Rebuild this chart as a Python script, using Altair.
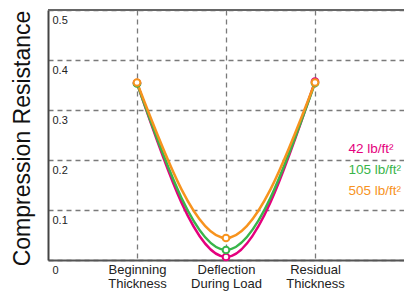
import json
import altair as alt
import pandas as pd

# ---- data ----
stages = ["Beginning Thickness", "Deflection During Load", "Residual Thickness"]
stage_lines = [["Beginning", "Thickness"], ["Deflection", "During Load"], ["Residual", "Thickness"]]
stage_pos = [1, 2, 3]
series = ["42 lb/ft²", "105 lb/ft²", "505 lb/ft²"]
colors = ["#E5007D", "#39B54A", "#F7931E"]
vals_42 = [0.354, 0.006, 0.357]
vals_105 = [0.353, 0.020, 0.354]
vals_505 = [0.355, 0.044, 0.355]
y_ticks = [0, 0.1, 0.2, 0.3, 0.4, 0.5]

rows = []
for name, vals in zip(series, [vals_42, vals_105, vals_505]):
    for st, p, v in zip(stages, stage_pos, vals):
        rows.append({"series": name, "stage": st, "pos": p, "value": v})
df = pd.DataFrame(rows)

label_expr = " : ".join(
    f"datum.value == {p} ? {json.dumps(lines)}" for p, lines in zip(stage_pos, stage_lines)
) + " : ''"

FONT = "Liberation Sans"
grid_dash = [5, 4]

x_enc = alt.X(
    "pos:Q",
    scale=alt.Scale(domain=[0, 356 / 91]),
    axis=alt.Axis(
        values=stage_pos, labelExpr=label_expr, title=None, ticks=False,
        grid=True, gridDash=grid_dash, gridColor="#7a7a7a", gridWidth=1.3,
        domainColor="#555555", domainWidth=2, labelFontSize=13,
        labelLineHeight=14, labelPadding=3, labelColor="#222222", labelFont=FONT,
        labelBaseline="top",
    ),
)
y_enc = alt.Y(
    "value:Q",
    scale=alt.Scale(domain=[0, 0.5]),
    axis=alt.Axis(
        values=y_ticks, format="~g", ticks=False, grid=True, gridDash=grid_dash,
        gridColor="#7a7a7a", gridWidth=1.3, domainColor="#444444", domainWidth=2,
        labelAlign="left", labelBaseline="top", labelPadding=-4, labelOffset=4,
        labelFontSize=11, labelColor="#222222", labelFont=FONT,
        title="Compression Resistance", titleFontSize=23, titleFontWeight="normal",
        titleFont=FONT, titleColor="#111111", titleX=-19, titleY=128,
        titleAngle=-90, titleBaseline="alphabetic", titleAlign="center",
    ),
)
color_enc = alt.Color(
    "series:N",
    scale=alt.Scale(domain=series, range=colors),
    sort=series,
    legend=alt.Legend(
        orient="none", legendX=287, legendY=132, title=None,
        symbolOpacity=0, symbolSize=0, symbolStrokeWidth=0, labelOffset=0,
        labelFontSize=13.5, labelFont=FONT, rowPadding=6, padding=0,
        labelColor={"expr": "scale('color', datum.value)"},
    ),
)

base = alt.Chart(df)
lines = base.mark_line(interpolate="monotone", strokeWidth=2.5).encode(
    x=x_enc, y=y_enc, color=color_enc
)
points = base.mark_point(shape="circle", filled=False, fill="white", fillOpacity=1,
                         size=45, strokeWidth=2, opacity=1).encode(
    x="pos:Q", y="value:Q", color=alt.Color("series:N", legend=None)
)
top_border = alt.Chart(pd.DataFrame({"v": [0.5]})).mark_rule(
    color="#666666", strokeWidth=2
).encode(y=alt.Y("v:Q"))

chart = alt.layer(lines, points, top_border).properties(
    width=356, height=250,
    autosize=alt.AutoSizeParams(type="none"),
    padding={"left": 40, "top": 2, "right": 0, "bottom": 32},
).configure_view(stroke=None)

chart.save("out.html", embed_options={"renderer": "svg", "actions": False})
